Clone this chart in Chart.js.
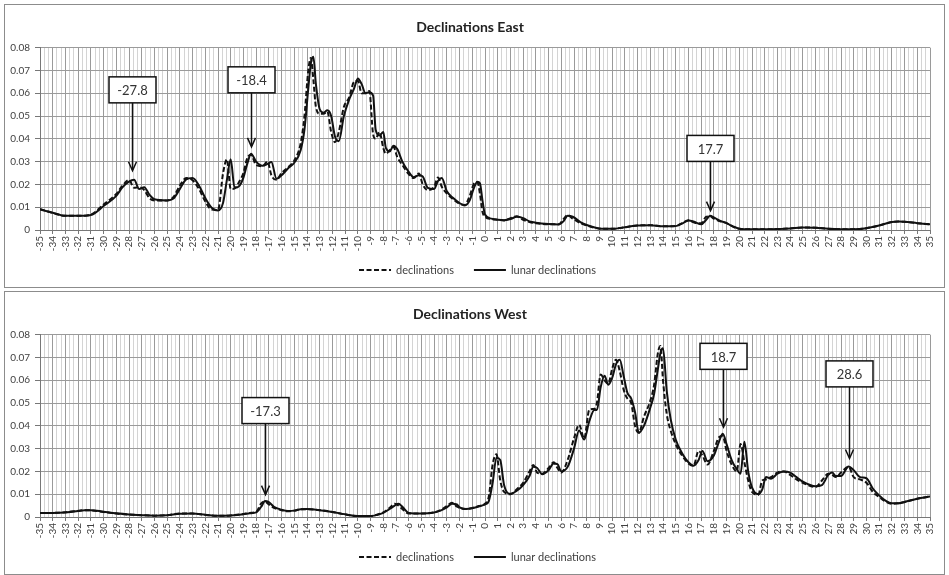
<!DOCTYPE html>
<html>
<head>
<meta charset="utf-8">
<script src="https://cdn.jsdelivr.net/npm/chart.js@4.4.1/dist/chart.umd.min.js"></script>
<style>
  html, body { margin: 0; padding: 0; background: #fff; }
  body { width: 949px; height: 575px; position: relative; overflow: hidden; }
  .panel { position: absolute; left: 4px; width: 939px; height: 282px; border: 1px solid #8c8c8c; background: #fff; }
  #eastPanel { top: 4px; }
  #westPanel { top: 291px; }
</style>
</head>
<body>
<div class="panel" id="eastPanel"><canvas id="chartEast"></canvas></div>
<div class="panel" id="westPanel"><canvas id="chartWest"></canvas></div>
<script>
// series names
var seriesLabels = ["declinations", "lunar declinations"];

// y axis tick labels
var yTickValues = [0, 0.01, 0.02, 0.03, 0.04, 0.05, 0.06, 0.07, 0.08];

// declinations east
var eastX = [
    -35, -34, -33, -32, -31, -30, -29, -28.5, -28, -27.6,
    -27.2, -26.8, -26.4, -26, -25, -24.5, -24, -23.5, -23, -22.5,
    -22, -21.5, -21, -20.6, -20.3, -20, -19.7, -19.3, -19, -18.7,
    -18.4, -18, -17.5, -17.1, -16.8, -16.4, -16, -15.5, -15, -14.5,
    -14.2, -13.9, -13.7, -13.5, -13.3, -13, -12.7, -12.4, -12.1, -11.8,
    -11.5, -11.1, -10.7, -10.3, -10, -9.7, -9.4, -9.1, -8.8, -8.6,
    -8.3, -8, -7.8, -7.5, -7.2, -6.9, -6.5, -6, -5.6, -5.2,
    -4.9, -4.5, -4, -3.7, -3.4, -3, -2.5, -2, -1.6, -1.2,
    -0.9, -0.6, -0.4, -0.2, 0, 0.5, 1, 1.5, 2, 2.5,
    3, 3.5, 4, 5, 5.8, 6.2, 6.5, 6.9, 7.5, 8,
    9, 10, 11, 12, 13, 14, 15, 15.5, 16, 16.5,
    17, 17.4, 17.7, 18, 18.5, 19, 19.5, 20, 21, 22,
    23, 24, 25, 26, 27, 28, 29, 30, 31, 32,
    32.5, 33, 34, 35
];
var eastDecl = [
    .0092, .0075, .0062, .0062, .0068, .0112, .0158, .0195, .0220, .0185,
    .0188, .0175, .0140, .0130, .0130, .0145, .0195, .0228, .0218, .0180,
    .0125, .0090, .0088, .0250, .0310, .0180, .0182, .0215, .0250, .0315,
    .0330, .0285, .0280, .0300, .0240, .0220, .0250, .0275, .0305, .0380,
    .0500, .0700, .0755, .0660, .0540, .0510, .0510, .0520, .0430, .0385,
    .0430, .0540, .0580, .0650, .0655, .0600, .0600, .0610, .0420, .0400,
    .0430, .0360, .0335, .0350, .0365, .0320, .0285, .0245, .0228, .0248,
    .0200, .0175, .0190, .0230, .0190, .0160, .0135, .0115, .0110, .0150,
    .0200, .0210, .0160, .0080, .0058, .0048, .0045, .0042, .0052, .0060,
    .0045, .0035, .0030, .0025, .0025, .0050, .0065, .0050, .0030, .0020,
    .0006, .0005, .0012, .0020, .0021, .0016, .0018, .0030, .0043, .0032,
    .0030, .0058, .0060, .0050, .0038, .0030, .0015, .0005, .0003, .0003,
    .0004, .0007, .0011, .0010, .0005, .0003, .0003, .0008, .0020, .0035,
    .0037, .0036, .0030, .0025
];
var eastLunar = [
    .0090, .0076, .0062, .0062, .0066, .0105, .0150, .0188, .0212, .0220,
    .0180, .0188, .0155, .0135, .0130, .0138, .0180, .0222, .0228, .0195,
    .0140, .0098, .0086, .0120, .0220, .0310, .0185, .0195, .0230, .0290,
    .0335, .0300, .0282, .0290, .0298, .0225, .0240, .0270, .0295, .0350,
    .0440, .0620, .0730, .0760, .0640, .0530, .0515, .0525, .0500, .0410,
    .0390, .0500, .0570, .0620, .0665, .0640, .0600, .0605, .0590, .0440,
    .0415, .0430, .0360, .0345, .0370, .0355, .0300, .0255, .0232, .0240,
    .0235, .0185, .0180, .0215, .0228, .0170, .0140, .0118, .0108, .0130,
    .0180, .0212, .0205, .0130, .0068, .0050, .0045, .0043, .0048, .0058,
    .0052, .0038, .0032, .0026, .0024, .0040, .0062, .0058, .0035, .0022,
    .0007, .0005, .0012, .0020, .0021, .0016, .0017, .0028, .0042, .0035,
    .0025, .0045, .0062, .0055, .0040, .0030, .0016, .0006, .0003, .0003,
    .0004, .0007, .0011, .0010, .0005, .0003, .0003, .0008, .0020, .0035,
    .0037, .0036, .0030, .0025
];
var eastNotes = [
    { x: -27.8, tip: 0.026, box: 0.0615 },
    { x: -18.4, tip: 0.0365, box: 0.0659 },
    { x: 17.7, tip: 0.0085, box: 0.0358 },
];

// declinations west
var westX = [
    -35, -34, -33, -32, -31.5, -31, -30, -29, -28, -27,
    -26, -25, -24, -23, -22, -21, -20, -19, -18.5, -18,
    -17.6, -17.3, -17, -16.6, -16, -15.5, -15, -14.5, -14, -13,
    -12, -11, -10, -9, -8.5, -8, -7.5, -7.1, -6.8, -6.5,
    -6, -5, -4, -3.5, -3, -2.6, -2.2, -2, -1.5, -1,
    -0.5, 0, 0.3, 0.6, 0.9, 1.2, 1.5, 2, 2.5, 3,
    3.5, 3.8, 4.1, 4.5, 5, 5.4, 5.7, 6, 6.5, 7,
    7.4, 7.8, 8.2, 8.6, 8.8, 9.1, 9.4, 9.7, 10, 10.3,
    10.6, 10.9, 11.2, 11.5, 11.8, 12.1, 12.5, 13, 13.3, 13.6,
    13.8, 14, 14.3, 14.6, 15, 15.5, 16, 16.4, 16.8, 17.1,
    17.5, 18, 18.4, 18.7, 19, 19.4, 19.8, 20.1, 20.4, 20.7,
    21, 21.5, 21.8, 22.1, 22.5, 23, 23.5, 24, 24.5, 25,
    26, 26.5, 27, 27.3, 27.6, 28, 28.6, 29, 29.5, 30,
    30.5, 31, 31.5, 32, 32.5, 33, 34, 35
];
var westDecl = [
    .0018, .0018, .0021, .0027, .0030, .0029, .0022, .0015, .0011, .0008,
    .0006, .0008, .0015, .0015, .0009, .0005, .0007, .0013, .0018, .0022,
    .0060, .0068, .0055, .0040, .0030, .0025, .0028, .0034, .0034, .0030,
    .0022, .0011, .0004, .0004, .0010, .0020, .0040, .0058, .0050, .0035,
    .0015, .0015, .0020, .0030, .0048, .0062, .0045, .0040, .0035, .0040,
    .0048, .0058, .0090, .0230, .0275, .0160, .0110, .0100, .0122, .0150,
    .0200, .0228, .0195, .0190, .0215, .0240, .0215, .0195, .0250, .0345,
    .0405, .0345, .0470, .0475, .0500, .0625, .0600, .0585, .0650, .0690,
    .0640, .0560, .0520, .0500, .0400, .0370, .0440, .0510, .0580, .0720,
    .0750, .0600, .0450, .0380, .0320, .0270, .0235, .0225, .0290, .0270,
    .0230, .0290, .0350, .0355, .0290, .0230, .0200, .0320, .0240, .0160,
    .0110, .0098, .0160, .0165, .0175, .0195, .0200, .0185, .0165, .0150,
    .0132, .0160, .0190, .0185, .0175, .0195, .0220, .0175, .0165, .0150,
    .0110, .0088, .0068, .0058, .0060, .0066, .0080, .0090
];
var westLunar = [
    .0018, .0018, .0020, .0026, .0030, .0030, .0023, .0016, .0011, .0008,
    .0006, .0008, .0014, .0015, .0010, .0005, .0007, .0012, .0016, .0020,
    .0045, .0070, .0065, .0045, .0032, .0026, .0028, .0034, .0035, .0030,
    .0022, .0012, .0004, .0004, .0009, .0018, .0035, .0050, .0058, .0045,
    .0018, .0015, .0020, .0028, .0042, .0058, .0055, .0042, .0035, .0038,
    .0046, .0055, .0070, .0150, .0260, .0250, .0140, .0102, .0115, .0140,
    .0180, .0220, .0215, .0188, .0205, .0235, .0232, .0200, .0220, .0300,
    .0380, .0340, .0420, .0470, .0470, .0570, .0620, .0580, .0610, .0670,
    .0690, .0620, .0545, .0520, .0460, .0370, .0400, .0480, .0540, .0650,
    .0720, .0740, .0550, .0430, .0340, .0280, .0240, .0225, .0250, .0290,
    .0245, .0270, .0330, .0365, .0320, .0250, .0210, .0190, .0330, .0200,
    .0130, .0100, .0120, .0175, .0168, .0190, .0200, .0195, .0175, .0155,
    .0135, .0140, .0185, .0195, .0180, .0180, .0222, .0205, .0175, .0170,
    .0125, .0095, .0072, .0060, .0060, .0066, .0080, .0090
];
var westNotes = [
    { x: -17.3, tip: 0.0098, box: 0.0467 },
    { x: 18.7, tip: 0.0394, box: 0.0705 },
    { x: 28.6, tip: 0.0257, box: 0.0628 },
];

var fontFamily = "Lato, 'Open Sans', sans-serif";
Chart.defaults.font.family = fontFamily;
Chart.defaults.color = "#404040";

function isWhole(v) {
    return Math.abs(v - Math.round(v)) < 1e-6;
}

// boxed label with an arrow pointing down at the peak
var calloutPlugin = {
    id: "callouts",
    afterDatasetsDraw: function (chart, args, opts) {
        var ctx = chart.ctx;
        var xs = chart.scales.x, ys = chart.scales.y;
        var w = 47, h = 26;
        (opts.notes || []).forEach(function (n) {
            var px = Math.round(xs.getPixelForValue(n.x)) + 0.5;
            var tipY = ys.getPixelForValue(n.tip);
            var boxY = ys.getPixelForValue(n.box);
            ctx.save();
            ctx.lineWidth = 1.5;
            ctx.strokeStyle = "#111";
            ctx.fillStyle = "#fff";
            ctx.fillRect(px - w / 2, boxY - h / 2, w, h);
            ctx.strokeRect(px - w / 2, boxY - h / 2, w, h);
            ctx.fillStyle = "#333";
            ctx.font = "13px " + fontFamily;
            ctx.textAlign = "center";
            ctx.textBaseline = "middle";
            ctx.fillText(n.x.toFixed(1), px, boxY + 1);
            ctx.beginPath();
            ctx.moveTo(px, boxY + h / 2);
            ctx.lineTo(px, tipY - 1);
            ctx.stroke();
            ctx.beginPath();
            ctx.moveTo(px - 4, tipY - 9);
            ctx.lineTo(px, tipY);
            ctx.lineTo(px + 4, tipY - 9);
            ctx.stroke();
            ctx.restore();
        });
    },
};

// legend drawn by hand so the dashed sample keeps its dashes
var lineLegendPlugin = {
    id: "lineLegend",
    afterDraw: function (chart, args, opts) {
        var ctx = chart.ctx;
        var lineW = 32, gapText = 5, gapItem = 20;
        ctx.save();
        ctx.font = "11px " + fontFamily;
        var items = chart.data.datasets.map(function (ds) {
            return { ds: ds, tw: ctx.measureText(ds.label).width };
        });
        var total = 0;
        items.forEach(function (it, i) {
            total += lineW + gapText + it.tw + (i ? gapItem : 0);
        });
        var x = chart.width / 2 + 3 - total / 2;
        var y = chart.height - opts.offset;
        items.forEach(function (it) {
            ctx.strokeStyle = it.ds.borderColor;
            ctx.lineWidth = it.ds.borderWidth;
            ctx.setLineDash(it.ds.borderDash || []);
            ctx.beginPath();
            ctx.moveTo(x, y);
            ctx.lineTo(x + lineW, y);
            ctx.stroke();
            ctx.setLineDash([]);
            ctx.fillStyle = "#404040";
            ctx.textAlign = "left";
            ctx.textBaseline = "middle";
            ctx.fillText(it.ds.label, x + lineW + gapText, y);
            x += lineW + gapText + it.tw + gapItem;
        });
        ctx.restore();
    },
};

function makeChart(id, title, xs, decl, lunar, notes) {
    var ctx = document.getElementById(id).getContext("2d");
    return new Chart(ctx, {
        type: "line",
        data: {
            datasets: [
                {
                    label: seriesLabels[0],
                    data: xs.map(function (x, i) { return { x: x, y: decl[i] }; }),
                    borderColor: "#111",
                    backgroundColor: "#111",
                    borderWidth: 2,
                    borderDash: [5, 2.5],
                    pointRadius: 0,
                    cubicInterpolationMode: "monotone",
                },
                {
                    label: seriesLabels[1],
                    data: xs.map(function (x, i) { return { x: x, y: lunar[i] }; }),
                    borderColor: "#111",
                    backgroundColor: "#111",
                    borderWidth: 2,
                    pointRadius: 0,
                    cubicInterpolationMode: "monotone",
                },
            ],
        },
        options: {
            responsive: true,
            maintainAspectRatio: false,
            animation: false,
            layout: { padding: { top: 0, right: 9, bottom: 33, left: 0 } },
            scales: {
                x: {
                    type: "linear",
                    min: -35,
                    max: 35,
                    afterBuildTicks: function (scale) {
                        var t = [];
                        for (var i = -105; i <= 105; i++) t.push({ value: i / 3 });
                        scale.ticks = t;
                    },
                    afterFit: function (scale) { scale.height = 24; },
                    ticks: {
                        autoSkip: false,
                        minRotation: 90,
                        maxRotation: 90,
                        padding: 2,
                        font: { size: 10 },
                        callback: function (v) { return isWhole(v) ? String(Math.round(v)) : ""; },
                    },
                    grid: {
                        color: function (c) { return c.tick && isWhole(c.tick.value) ? "#9a9a9a" : "#d4d4d4"; },
                        tickColor: function (c) { return c.tick && isWhole(c.tick.value) ? "#777" : "rgba(0,0,0,0)"; },
                        tickLength: 4,
                    },
                    border: { color: "#777" },
                },
                y: {
                    min: 0,
                    max: 0.08,
                    afterBuildTicks: function (scale) {
                        scale.ticks = yTickValues.map(function (v) { return { value: v }; });
                    },
                    afterFit: function (scale) { scale.width = 35; },
                    ticks: {
                        padding: 5,
                        font: { size: 10 },
                        callback: function (v) { return Math.abs(v) < 1e-9 ? "0" : v.toFixed(2); },
                    },
                    grid: { color: "#9a9a9a", tickLength: 5, tickColor: "#777" },
                    border: { color: "#777" },
                },
            },
            plugins: {
                title: {
                    display: true,
                    text: title,
                    color: "#222",
                    font: { size: 14, weight: "bold" },
                    padding: { top: 13.6, bottom: 12.3 },
                },
                legend: { display: false },
                tooltip: { enabled: false },
                callouts: { notes: notes },
                lineLegend: { offset: 17 },
            },
        },
        plugins: [calloutPlugin, lineLegendPlugin],
    });
}

var chartEast = makeChart("chartEast", "Declinations East", eastX, eastDecl, eastLunar, eastNotes);
var chartWest = makeChart("chartWest", "Declinations West", westX, westDecl, westLunar, westNotes);
</script>
</body>
</html>
